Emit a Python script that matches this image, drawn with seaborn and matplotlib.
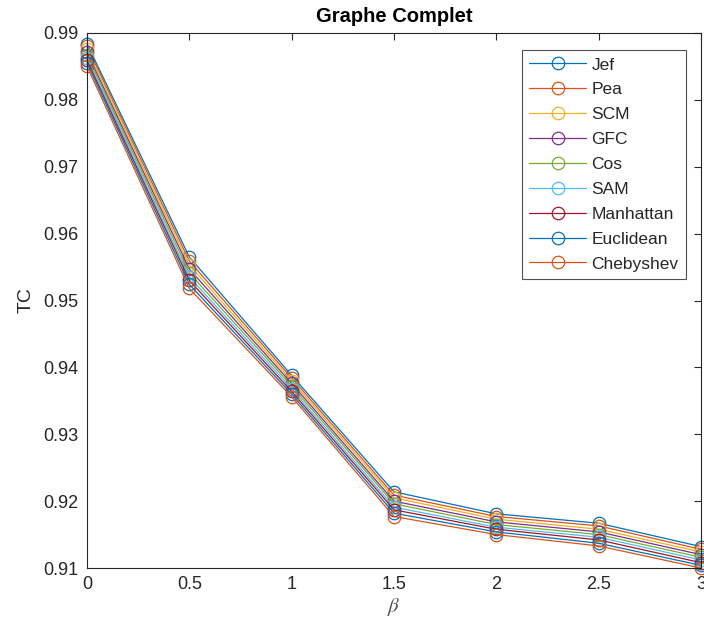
import numpy as np
import pandas as pd
import matplotlib
matplotlib.use("Agg")
import matplotlib.pyplot as plt
from matplotlib.ticker import FuncFormatter
import seaborn as sns

# values
beta = [0, 0.5, 1, 1.5, 2, 2.5, 3]
methods = ["Jef", "Pea", "SCM", "GFC", "Cos", "SAM", "Manhattan", "Euclidean", "Chebyshev"]

jef = [0.9884, 0.9565, 0.9388, 0.9214, 0.9181, 0.9167, 0.9132]
pea = [0.9880, 0.9559, 0.9384, 0.9209, 0.9177, 0.9163, 0.9128]
scm = [0.9876, 0.9553, 0.9380, 0.9205, 0.9173, 0.9158, 0.9124]
gfc = [0.9871, 0.9547, 0.9376, 0.9200, 0.9169, 0.9154, 0.9120]
cos = [0.9867, 0.9541, 0.9372, 0.9196, 0.9165, 0.9150, 0.9116]
sam = [0.9863, 0.9535, 0.9368, 0.9191, 0.9161, 0.9146, 0.9112]
manhattan = [0.9859, 0.9530, 0.9364, 0.9187, 0.9158, 0.9142, 0.9108]
euclidean = [0.9855, 0.9524, 0.9360, 0.9182, 0.9154, 0.9137, 0.9104]
chebyshev = [0.9850, 0.9518, 0.9356, 0.9177, 0.9150, 0.9133, 0.9100]

series = [jef, pea, scm, gfc, cos, sam, manhattan, euclidean, chebyshev]

# matlab default line colours
colors = ["#0072BD", "#D95319", "#EDB120", "#7E2F8E", "#77AC30",
          "#4DBEEE", "#A2142F", "#0072BD", "#D95319"]

df = pd.DataFrame({
    "beta": beta * len(methods),
    "TC": [v for s in series for v in s],
    "method": [m for m in methods for _ in beta],
})

sns.set_style("white")
plt.rcParams["font.family"] = ["Liberation Sans", "DejaVu Sans"]
plt.rcParams["mathtext.fontset"] = "stix"

fig = plt.figure(figsize=(7.04, 6.37), dpi=100)
ax = fig.add_axes([0.1236, 0.1083, 0.8721, 0.8399])

sns.lineplot(data=df, x="beta", y="TC", hue="method", hue_order=methods,
             palette=colors, marker="o", markersize=9, linewidth=0.9,
             legend=False, ax=ax)

for line, c in zip(ax.lines, colors):
    line.set_markerfacecolor("none")
    line.set_markeredgecolor(c)
    line.set_markeredgewidth(0.9)
    line.set_clip_on(False)

ax.set_xlim(0, 3)
ax.set_ylim(0.91, 0.99)
ax.set_xticks(beta)
ax.set_yticks(np.arange(0.91, 0.9901, 0.01))
fmt = FuncFormatter(lambda v, p: "%g" % round(v, 4))
ax.xaxis.set_major_formatter(fmt)
ax.yaxis.set_major_formatter(fmt)

dark = "#262626"
ax.tick_params(direction="in", length=5, width=0.8, colors=dark,
               labelsize=13, top=True, right=True, pad=6)
for sp in ax.spines.values():
    sp.set_color(dark)
    sp.set_linewidth(0.8)

ax.set_title("Graphe Complet", fontsize=14.5, fontweight="bold", color="black", pad=8)
ax.set_xlabel(r"$\beta$", fontsize=15, color="#555555", labelpad=2)
ax.set_ylabel("TC", fontsize=14, color=dark, labelpad=6)

leg = ax.legend(handles=ax.lines, labels=methods, loc="upper right",
                bbox_to_anchor=(0.9756, 0.968), fontsize=12.5, frameon=True,
                fancybox=False, handlelength=3.3, handletextpad=0.3,
                labelspacing=0.56, borderpad=0.42, borderaxespad=0)
leg.get_frame().set_edgecolor(dark)
leg.get_frame().set_linewidth(0.8)
for t in leg.get_texts():
    t.set_color(dark)

fig.savefig("out.png", dpi=100)
